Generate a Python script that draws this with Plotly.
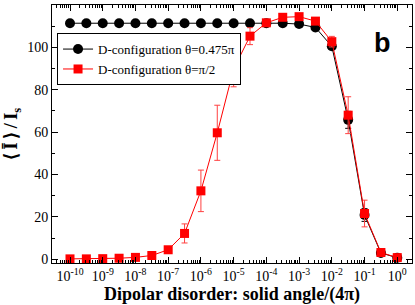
import plotly.graph_objects as go

# ---- data ----
exponents = [-10 + 0.5 * k for k in range(21)]
solid_angle = [10 ** e for e in exponents]

black_name = "D-configuration θ=0.475π"
black_vals = [111.4, 111.4, 111.4, 111.4, 111.4, 111.4, 111.4, 111.4, 111.4, 111.4,
              111.4, 111.4, 111.4, 111.4, 111.0, 109.4, 100.5, 65.8, 20.9, 3.0, 0.7]
black_err = [0, 0, 0, 0, 0, 0, 0, 0, 0, 0,
             0, 0, 0, 0, 0, 0.5, 1.0, 4.0, 3.0, 0.5, 0.3]

red_name = "D-configuration θ=π/2"
red_vals = [0.2, 0.2, 0.3, 0.5, 0.9, 1.8, 4.5, 12.2, 32.3, 59.7,
            89.8, 105.3, 111.6, 114.2, 114.5, 112.4, 102.7, 68.0, 21.6, 3.2, 0.8]
red_err = [0, 0, 0, 0, 0, 0.3, 1.5, 4.5, 9.8, 13.0,
           8.4, 4.0, 0.8, 0.8, 1.0, 1.0, 2.5, 8.7, 6.3, 0.8, 0.4]

x_tick_exps = list(range(-10, 1))
x_tick_vals = [10.0 ** e for e in x_tick_exps]
x_tick_text = ["10<sup>%d</sup>" % e for e in x_tick_exps]
x_minor_vals = [m * 10.0 ** e for e in range(-11, 1) for m in range(2, 10)]

y_ticks = [0, 20, 40, 60, 80, 100, 120]

serif = "Liberation Serif"

fig = go.Figure()
fig.add_trace(go.Scatter(
    x=solid_angle, y=black_vals, name=black_name, mode="lines+markers",
    line=dict(color="black", width=1),
    marker=dict(symbol="circle", size=10, color="black"),
    error_y=dict(type="data", array=black_err, color="black", thickness=1, width=3),
))
fig.add_trace(go.Scatter(
    x=solid_angle, y=red_vals, name=red_name, mode="lines+markers",
    line=dict(color="red", width=1),
    marker=dict(symbol="square", size=9, color="red"),
    error_y=dict(type="data", array=red_err, color="#ff4040", thickness=1, width=3),
))

fig.update_layout(
    width=415, height=305,
    margin=dict(l=52, r=3, t=5, b=42),
    paper_bgcolor="white", plot_bgcolor="white",
    font=dict(family=serif, size=13, color="black"),
    showlegend=True,
    legend=dict(
        x=0.014, y=0.891, xanchor="left", yanchor="top",
        bordercolor="black", borderwidth=1, bgcolor="white",
        font=dict(family=serif, size=13),
        tracegroupgap=2,
    ),
    annotations=[dict(
        text="<b>b</b>", x=0.947, y=0.919, xref="paper", yref="paper",
        showarrow=False, font=dict(family="Liberation Sans", size=27, color="black"),
    )],
)

fig.update_xaxes(
    type="log", range=[-10.55, 0.45], automargin=False,
    tickmode="array", tickvals=x_tick_vals, ticktext=x_tick_text,
    ticks="inside", ticklen=6, tickwidth=1, tickcolor="black",
    minor=dict(tickmode="array", tickvals=x_minor_vals, ticks="inside", ticklen=3,
               tickwidth=1, tickcolor="black", showgrid=False),
    showline=True, linecolor="black", linewidth=1, mirror="allticks",
    showgrid=False, zeroline=False,
    tickfont=dict(family=serif, size=14),
    title=dict(text="<b>Dipolar disorder: solid angle/(4π)</b>",
               font=dict(family=serif, size=18), standoff=2),
)
fig.update_yaxes(
    range=[-1.75, 120], automargin=False,
    tickvals=y_ticks,
    ticks="inside", ticklen=6, tickwidth=1, tickcolor="black",
    minor=dict(dtick=10, ticks="inside", ticklen=3, tickwidth=1, tickcolor="black", showgrid=False),
    showline=True, linecolor="black", linewidth=1, mirror="allticks",
    showgrid=False, zeroline=False,
    tickfont=dict(family=serif, size=14),
    title=dict(text="<b>⟨\u2009Ī\u2009⟩\u2009/\u2009I<sub>s</sub></b>",
               font=dict(family=serif, size=18), standoff=4),
)

fig.write_html("out.html", config={"displayModeBar": False},
               post_script="document.body.style.margin='0';")
